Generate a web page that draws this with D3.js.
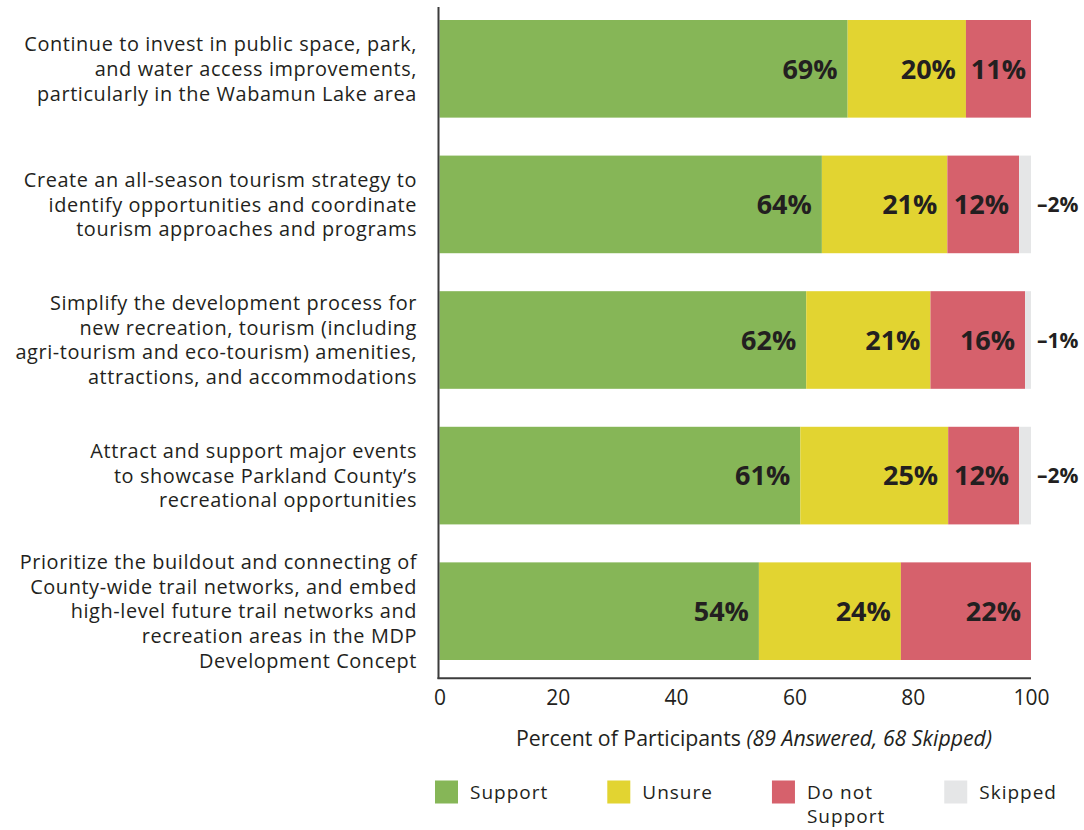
<!DOCTYPE html>
<html>
<head>
<meta charset="utf-8">
<script src="https://cdn.jsdelivr.net/npm/d3@7"></script>
<style>
  html, body { margin: 0; padding: 0; background: #fff; }
  svg { display: block; }
  text { font-family: "Open Sans", "Noto Sans", sans-serif; fill: #231f20; }
</style>
</head>
<body>
<svg id="chart" width="1084" height="830"></svg>
<script>
// Survey responses per statement (percent of participants)
const categories = [
  "Continue to invest in public space, park,\nand water access improvements,\nparticularly in the Wabamun Lake area",
  "Create an all-season tourism strategy to\nidentify opportunities and coordinate\ntourism approaches and programs",
  "Simplify the development process for\nnew recreation, tourism (including\nagri-tourism and eco-tourism) amenities,\nattractions, and accommodations",
  "Attract and support major events\nto showcase Parkland County’s\nrecreational opportunities",
  "Prioritize the buildout and connecting of\nCounty-wide trail networks, and embed\nhigh-level future trail networks and\nrecreation areas in the MDP\nDevelopment Concept"
];
const support      = [69, 64, 62, 61, 54];
const unsure       = [20, 21, 21, 25, 24];
const doNotSupport = [11, 12, 16, 12, 22];
const skipped      = [0, 2, 1, 2, 0];

const seriesKeys   = ["support", "unsure", "doNotSupport", "skipped"];
const legendLabels = ["Support", "Unsure", "Do not\nSupport", "Skipped"];
const tickValues   = [0, 20, 40, 60, 80, 100];
const axisTitle    = "Percent of Participants";
const axisNote     = "(89 Answered, 68 Skipped)";

const colors = {
  support: "#86b657",
  unsure: "#e2d431",
  doNotSupport: "#d6616c",
  skipped: "#e5e6e7"
};

const rows = categories.map((c, i) => ({
  category: c,
  support: support[i],
  unsure: unsure[i],
  doNotSupport: doNotSupport[i],
  skipped: skipped[i]
}));

const svg = d3.select("#chart");

const x = d3.scaleLinear().domain([0, 100]).range([439.5, 1031]);
const y = d3.scaleBand().domain(categories).range([20, 660]).paddingInner(0.28);

// Each row is stacked and normalised to the full width
const stacked = d3.stack().keys(seriesKeys).offset(d3.stackOffsetExpand)(rows);

const layers = svg.append("g").selectAll("g")
  .data(stacked)
  .join("g")
  .attr("fill", d => colors[d.key]);

layers.selectAll("rect")
  .data(d => d.map(s => ({ key: d.key, s })))
  .join("rect")
  .attr("x", d => x(d.s[0] * 100))
  .attr("y", d => y(d.s.data.category))
  .attr("width", d => Math.max(0, x(d.s[1] * 100) - x(d.s[0] * 100)))
  .attr("height", y.bandwidth());

// Value labels inside the segments
const inner = svg.append("g");
stacked.filter(l => l.key !== "skipped").forEach(layer => {
  layer.forEach(s => {
    const v = s.data[layer.key];
    if (!v) return;
    const x0 = x(s[0] * 100), x1 = x(s[1] * 100);
    const t = inner.append("text")
      .attr("y", y(s.data.category) + y.bandwidth() / 2)
      .attr("dy", "0.36em")
      .attr("font-size", 27)
      .attr("font-weight", 700)
      .attr("text-anchor", "end")
      .text(v + "%");
    const w = t.node().getComputedTextLength();
    let right = x1 - 10;
    if (right - w < x0 + 4) right = (x0 + x1) / 2 + w / 2;
    t.attr("x", right);
  });
});

// Skipped shares written beside the bar
const skippedLayer = stacked.find(l => l.key === "skipped");
svg.append("g").selectAll("text")
  .data(skippedLayer.filter(s => s.data.skipped > 0))
  .join("text")
  .attr("x", x(100) + 6)
  .attr("y", s => y(s.data.category) + y.bandwidth() / 2)
  .attr("dy", "0.36em")
  .attr("font-size", 21)
  .attr("font-weight", 700)
  .text(s => "–" + s.data.skipped + "%");

// Category labels, one tspan per line
const catG = svg.append("g");
categories.forEach(c => {
  const lines = c.split("\n");
  const lh = 24.6;
  const cy = y(c) + y.bandwidth() / 2;
  const t = catG.append("text")
    .attr("text-anchor", "end")
    .attr("font-size", 19.9)
    .attr("letter-spacing", 0.6);
  lines.forEach((ln, i) => {
    t.append("tspan")
      .attr("x", 417)
      .attr("y", cy + (i - (lines.length - 1) / 2) * lh)
      .attr("dy", "0.36em")
      .text(ln);
  });
});

// Axes
const axisColor = "#3c3c3c";
svg.append("line")
  .attr("x1", 438.5).attr("x2", 438.5)
  .attr("y1", 7).attr("y2", 679)
  .attr("stroke", axisColor).attr("stroke-width", 2);
svg.append("line")
  .attr("x1", 437.5).attr("x2", x(100))
  .attr("y1", 678.3).attr("y2", 678.3)
  .attr("stroke", axisColor).attr("stroke-width", 2);

const xAxis = svg.append("g")
  .attr("transform", "translate(0,678)")
  .call(d3.axisBottom(x).tickValues(tickValues).tickSize(0).tickPadding(12));
xAxis.select(".domain").remove();
xAxis.selectAll("text")
  .attr("font-size", 21)
  .attr("font-family", "\"Open Sans\", \"Noto Sans\", sans-serif")
  .attr("fill", "#231f20");

const title = svg.append("text")
  .attr("x", 754)
  .attr("y", 746)
  .attr("text-anchor", "middle")
  .attr("font-size", 21.3);
title.append("tspan").text(axisTitle + " ");
title.append("tspan").attr("font-style", "italic").text(axisNote);

// Legend: swatch, then label lines centred like the category labels
const legend = svg.append("g");
let lx = 435;
seriesKeys.forEach((k, i) => {
  legend.append("rect")
    .attr("x", lx).attr("y", 780.5)
    .attr("width", 23).attr("height", 23)
    .attr("fill", colors[k]);
  const t = legend.append("text")
    .attr("font-size", 19)
    .attr("letter-spacing", 1);
  legendLabels[i].split("\n").forEach((ln, j) => {
    t.append("tspan")
      .attr("x", lx + 35)
      .attr("y", 792 + j * 24.6)
      .attr("dy", "0.36em")
      .text(ln);
  });
  const w = d3.max(t.selectAll("tspan").nodes(), n => n.getComputedTextLength());
  lx += 35 + w + 59;
});
</script>
</body>
</html>
